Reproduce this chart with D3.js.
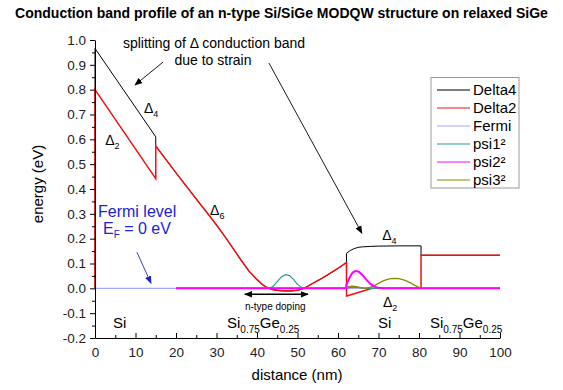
<!DOCTYPE html>
<html><head><meta charset="utf-8">
<script src="https://cdn.jsdelivr.net/npm/d3@7"></script>
<style>
body{margin:0;background:#fff;}
text{font-family:"Liberation Sans",Arial,sans-serif;}
</style></head>
<body><svg id="c" width="563" height="390"></svg>
<script>
// ---- data ----
const delta4X = [0,0,15,15,20,25,28,30,32,34,36,38,40,41.5,42.5,43.3,44,46,48,50,51,51.8,54,56,58,60,62.1,62.1,63,64,65,66,68,70,75,80.5,80.5,80.5,100];
const delta4Y = [0,0.966,0.61,0.573,0.465,0.36,0.297,0.255,0.21,0.163,0.115,0.07,0.035,0.013,0.003,-0.002,-0.006,-0.01,-0.011,-0.008,-0.003,0.002,0.022,0.04,0.06,0.08,0.104,0.141,0.152,0.16,0.165,0.167,0.169,0.170,0.171,0.171,0.171,0.133,0.133];
const delta2X = [0,0,15,15,20,25,28,30,32,34,36,38,40,41.5,42.5,43.3,44,46,48,50,51,51.8,54,56,58,60,62.1,62.1,63,64,65,66,67,68.5,75,80.5,80.5,100];
const delta2Y = [0,0.80,0.442,0.573,0.465,0.36,0.297,0.255,0.21,0.163,0.115,0.07,0.035,0.013,0.003,-0.002,-0.006,-0.01,-0.011,-0.008,-0.003,0.002,0.022,0.04,0.06,0.08,0.104,-0.031,-0.027,-0.022,-0.017,-0.012,-0.007,0,0,0,0.133,0.133];
const fermiX = [0,100];
const fermiY = [0,0];
const psi1X = [20,43.2,44,45,46,47,48,49,50,51,51.5,62,63,64,65,66,67,68,100];
const psi1Y = [0,0,0.008,0.027,0.046,0.055,0.051,0.036,0.016,0.003,0,0,0.004,0.005,0.004,0.002,0.001,0,0];
const psi2X = [20,62,62.1,62.5,63,63.5,64,64.6,65.2,66,67,68,69,70,71,100];
const psi2Y = [0,0,0.015,0.03,0.048,0.061,0.068,0.07,0.066,0.054,0.035,0.018,0.007,0.002,0,0];
const psi3X = [20,62,62.5,63.5,64.5,65.5,66.5,67,68,69,70,71,72,73,74,75,76,77,78,79,80,80.5,100];
const psi3Y = [0,0,0.006,0.009,0.007,0.003,0.001,0.001,0.004,0.011,0.02,0.029,0.035,0.039,0.04,0.039,0.035,0.029,0.021,0.012,0.004,0,0];
const xTicks = [0,10,20,30,40,50,60,70,80,90,100];
const yTicks = [-0.2,-0.1,0.0,0.1,0.2,0.3,0.4,0.5,0.6,0.7,0.8,0.9,1.0];
const seriesNames = ["Delta4","Delta2","Fermi","psi1²","psi2²","psi3²"];
const seriesColors = ["#000000","#ee1111","#a8a8f4","#2a9a96","#ff00ff","#8a8a00"];

// ---- chart ----
const svg = d3.select("#c");
const x = d3.scaleLinear().domain([0,100]).range([95,500]);
const y = d3.scaleLinear().domain([-0.2,1.0]).range([338,40]);

svg.append("text").attr("x",281.5).attr("y",18).attr("text-anchor","middle")
  .attr("font-size","14px").attr("font-weight","bold").text("Conduction band profile of an n-type Si/SiGe MODQW structure on relaxed SiGe");

const line = d3.line().x(d=>x(d[0])).y(d=>y(d[1]));
const zip = (a,b)=>a.map((v,i)=>[v,b[i]]);
const series = [
  {n:0, d:zip(delta4X,delta4Y), w:1.0},
  {n:1, d:zip(delta2X,delta2Y), w:1.5},
  {n:2, d:zip(fermiX,fermiY), w:1.1},
  {n:3, d:zip(psi1X,psi1Y), w:1.2},
  {n:5, d:zip(psi3X,psi3Y), w:1.2},
  {n:4, d:zip(psi2X,psi2Y), w:2}
];
series.forEach(s=>{
  svg.append("path").attr("d",line(s.d)).attr("fill","none")
    .attr("stroke",seriesColors[s.n]).attr("stroke-width",s.w);
});

// axes
const fmt1 = d=>d3.format(".1f")(d).replace("\u2212","-");
const yAxis = d3.axisLeft(y).tickValues(yTicks).tickSize(5).tickSizeOuter(0).tickPadding(4)
  .tickFormat(fmt1);
const gy = svg.append("g").attr("transform",`translate(${x(0)},0)`).call(yAxis);
const yMinor = d3.range(-0.15,1.0,0.1);
svg.append("g").attr("transform",`translate(${x(0)},0)`)
  .call(d3.axisLeft(y).tickValues(yMinor).tickSize(3).tickSizeOuter(0).tickFormat(""))
  .select(".domain").remove();
const xAxis = d3.axisBottom(x).tickValues(xTicks).tickSizeInner(-5).tickSizeOuter(0).tickPadding(9)
  .tickFormat(d3.format("d"));
const gx = svg.append("g").attr("transform",`translate(0,${y(-0.2)})`).call(xAxis);
const xMinor = d3.range(5,100,10);
svg.append("g").attr("transform",`translate(0,${y(-0.2)})`)
  .call(d3.axisBottom(x).tickValues(xMinor).tickSizeInner(-3).tickSizeOuter(0).tickFormat(""))
  .select(".domain").remove();
svg.selectAll(".tick text").attr("font-size","13.5px").attr("fill","#222")
  .attr("font-family","Liberation Sans, Arial, sans-serif");
svg.selectAll(".domain, .tick line").attr("stroke","#000");

svg.append("text").attr("transform",`translate(43,${(40+338)/2 - 5}) rotate(-90)`)
  .attr("text-anchor","middle").attr("font-size","15px").text("energy (eV)");
svg.append("text").attr("x",297).attr("y",380).attr("text-anchor","middle")
  .attr("font-size","15px").text("distance (nm)");

// legend
const lg = svg.append("g");
lg.append("rect").attr("x",431).attr("y",77.5).attr("width",88).attr("height",110.5)
  .attr("fill","#fff").attr("stroke","#999");
seriesNames.forEach((n,i)=>{
  const yy = 90 + i*18;
  lg.append("line").attr("x1",437).attr("x2",470).attr("y1",yy).attr("y2",yy)
    .attr("stroke",seriesColors[i]).attr("stroke-width",1.2);
  lg.append("text").attr("x",473).attr("y",yy+5).attr("font-size","15px").text(n);
});

// markers
const defs = svg.append("defs");
function mk(id,col){
  defs.append("marker").attr("id",id).attr("viewBox","0 0 10 10").attr("refX",9).attr("refY",5)
    .attr("markerWidth",8).attr("markerHeight",8).attr("orient","auto-start-reverse")
    .attr("markerUnits","userSpaceOnUse")
    .append("path").attr("d","M0,1 L10,5 L0,9 Z").attr("fill",col);
}
mk("ab","#000"); mk("ablue","#2222cc");
function arrow(x1,y1,x2,y2,col,id,w,both){
  const l = svg.append("line").attr("x1",x(x1)).attr("y1",y(y1)).attr("x2",x(x2)).attr("y2",y(y2))
    .attr("stroke",col).attr("stroke-width",w).attr("marker-end",`url(#${id})`);
  if(both) l.attr("marker-start",`url(#${id})`);
}
arrow(16.8,0.911,9.88,0.819,"#000","ab",0.9,false);
arrow(42.96,0.907,65.9,0.222,"#000","ab",0.9,false);
arrow(10.37,0.145,13.83,0.02,"#2222cc","ablue",0.9,false);
arrow(37.0,-0.024,52.6,-0.024,"#000","ab",1.5,true);

// annotations
svg.append("text").attr("x",214).attr("y",48).attr("text-anchor","middle").attr("font-size","14px")
  .text("splitting of \u0394 conduction band");
svg.append("text").attr("x",213).attr("y",65).attr("text-anchor","middle").attr("font-size","14px")
  .text("due to strain");
function delta(xd,yd,sub){
  const t = svg.append("text").attr("x",x(xd)).attr("y",y(yd))
    .attr("font-family","Liberation Serif, Times New Roman, serif").attr("font-size","14px");
  t.append("tspan").text("\u0394");
  t.append("tspan").attr("font-size","9px").attr("dy",4).text(sub);
}
delta(12.1,0.708,"4");
delta(2.5,0.578,"2");
delta(28.4,0.295,"6");
delta(70.9,0.194,"4");
delta(71.1,-0.077,"2");

const blue = "#2222cc";
svg.append("text").attr("x",98).attr("y",217).attr("font-size","16px").attr("fill",blue).text("Fermi level");
const ef = svg.append("text").attr("x",103).attr("y",234).attr("font-size","16px").attr("fill",blue);
ef.append("tspan").text("E");
ef.append("tspan").attr("font-size","10px").attr("dy",4).text("F");
ef.append("tspan").attr("dy",-4).text(" = 0 eV");

svg.append("text").attr("x",x(44.5)).attr("y",310).attr("text-anchor","middle")
  .attr("font-size","10px").text("n-type doping");

function sige(px,py){
  const t = svg.append("text").attr("x",px).attr("y",py).attr("font-size","15px");
  t.append("tspan").text("Si");
  t.append("tspan").attr("font-size","10px").attr("dy",5).text("0.75");
  t.append("tspan").attr("dy",-5).text("Ge");
  t.append("tspan").attr("font-size","10px").attr("dy",5).text("0.25");
}
svg.append("text").attr("x",113).attr("y",328).attr("font-size","15px").text("Si");
svg.append("text").attr("x",378).attr("y",328).attr("font-size","15px").text("Si");
sige(227,328);
sige(430,328);
</script></body></html>
